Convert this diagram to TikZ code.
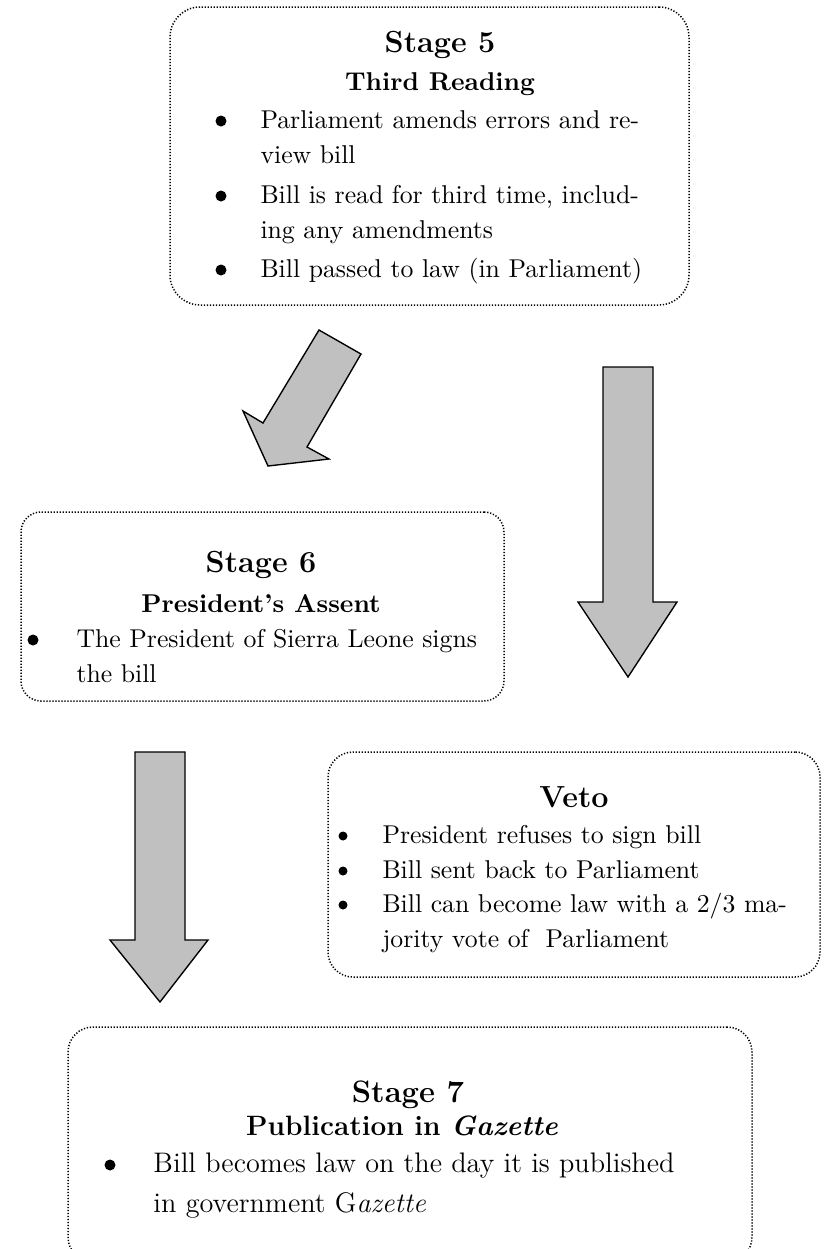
\documentclass[tikz,border=0pt]{standalone}
\usepackage{tikz}
\definecolor{arrowgray}{HTML}{C0C0C0}
\newcommand\bodyfnt{\fontsize{10.3pt}{12pt}\selectfont}
\newcommand\bigbodyfnt{\fontsize{11.3pt}{13pt}\selectfont}
\newcommand\stagefnt{\fontsize{12.2pt}{14pt}\selectfont\bfseries}
\newcommand\subfnt{\fontsize{10.3pt}{12pt}\selectfont\bfseries}
\tikzset{
  stagebox/.style={draw, rectangle, rounded corners=#1, line width=0.6pt,
    dash pattern=on 0.5pt off 0.7pt, inner sep=0pt},
  stagebox/.default=10pt,
  blockarrow/.style={draw, fill=arrowgray, line width=0.55pt, line join=miter},
  line/.style={inner sep=0pt, anchor=base west, font=\bodyfnt},
  bigline/.style={inner sep=0pt, anchor=base west, font=\bigbodyfnt},
  title/.style={inner sep=0pt, anchor=base, font=\stagefnt},
  subtitle/.style={inner sep=0pt, anchor=base, font=\subfnt},
}
\begin{document}
\begin{tikzpicture}[x=0.4pt,y=-0.4pt]
\useasboundingbox (0,0) rectangle (823,1249);
\clip (0,0) rectangle (823,1249);

% ---------- Stage 5 ----------
\node[stagebox=12pt, minimum width=519*0.4pt, minimum height=298*0.4pt] (s5box) at (429.5,156) {};
\node[title] (s5t) at (440,52) {Stage 5};
\node[subtitle] (s5s) at (440,90) {Third Reading};
\fill (221,121) circle[radius=5.5];
\fill (221,196) circle[radius=5.5];
\fill (221,270) circle[radius=5.5];
\node[line] (s5l1) at (260,128) {Parliament amends errors and re-};
\node[line] (s5l2) at (260,163) {view bill};
\node[line] (s5l3) at (260,203) {Bill is read for third time, includ-};
\node[line] (s5l4) at (260,238) {ing any amendments};
\node[line] (s5l5) at (260,277) {Bill passed to law (in Parliament)};

% ---------- diagonal arrow ----------
\draw[blockarrow] (319,330) -- (361,354) -- (307,447) -- (329,459) -- (268,466)
  -- (243,411) -- (263,423) -- cycle;

% ---------- right vertical arrow ----------
\draw[blockarrow] (603,367) -- (653,367) -- (653,602) -- (677,602) -- (628,677)
  -- (578,602) -- (603,602) -- cycle;

% ---------- Stage 6 ----------
\node[stagebox=8pt, minimum width=483*0.4pt, minimum height=189*0.4pt] (s6box) at (262.5,606.5) {};
\node[title] (s6t) at (261,572) {Stage 6};
\node[subtitle] (s6s) at (261,612) {President’s Assent};
\fill (33,640) circle[radius=5.5];
\node[line] (s6l1) at (76,647) {The President of Sierra Leone signs};
\node[line] (s6l2) at (76,682) {the bill};

% ---------- left vertical arrow ----------
\draw[blockarrow] (135,752) -- (185,752) -- (185,940) -- (208,940) -- (160,1002)
  -- (110,940) -- (135,940) -- cycle;

% ---------- Veto ----------
\node[stagebox=10pt, minimum width=492*0.4pt, minimum height=225*0.4pt] (vbox) at (574,864.5) {};
\node[title] (vt) at (574,807) {Veto};
\fill (343,836) circle[radius=4.5];
\fill (343,871) circle[radius=4.5];
\fill (343,905) circle[radius=4.5];
\node[line] (vl1) at (382,843) {President refuses to sign bill};
\node[line] (vl2) at (382,878) {Bill sent back to Parliament};
\node[line] (vl3) at (382,912) {Bill can become law with a 2/3 ma-};
\node[line] (vl4) at (382,947) {jority vote of\ \ Parliament};

% ---------- Stage 7 ----------
\node[stagebox=10pt, minimum width=684*0.4pt, minimum height=235*0.4pt] (s7box) at (410,1144.5) {};
\node[title, font=\fontsize{12.4pt}{14pt}\selectfont\bfseries] (s7t) at (408,1102) {Stage 7};
\node[subtitle, font=\fontsize{11.2pt}{13pt}\selectfont\bfseries] (s7s) at (402,1135) {Publication in \textit{Gazette}};
\fill (110,1165) circle[radius=5.5];
\node[bigline] (s7l1) at (153,1172) {Bill becomes law on the day it is published};
\node[bigline] (s7l2) at (153,1212) {in government G\textit{azette}};
\end{tikzpicture}
\end{document}
